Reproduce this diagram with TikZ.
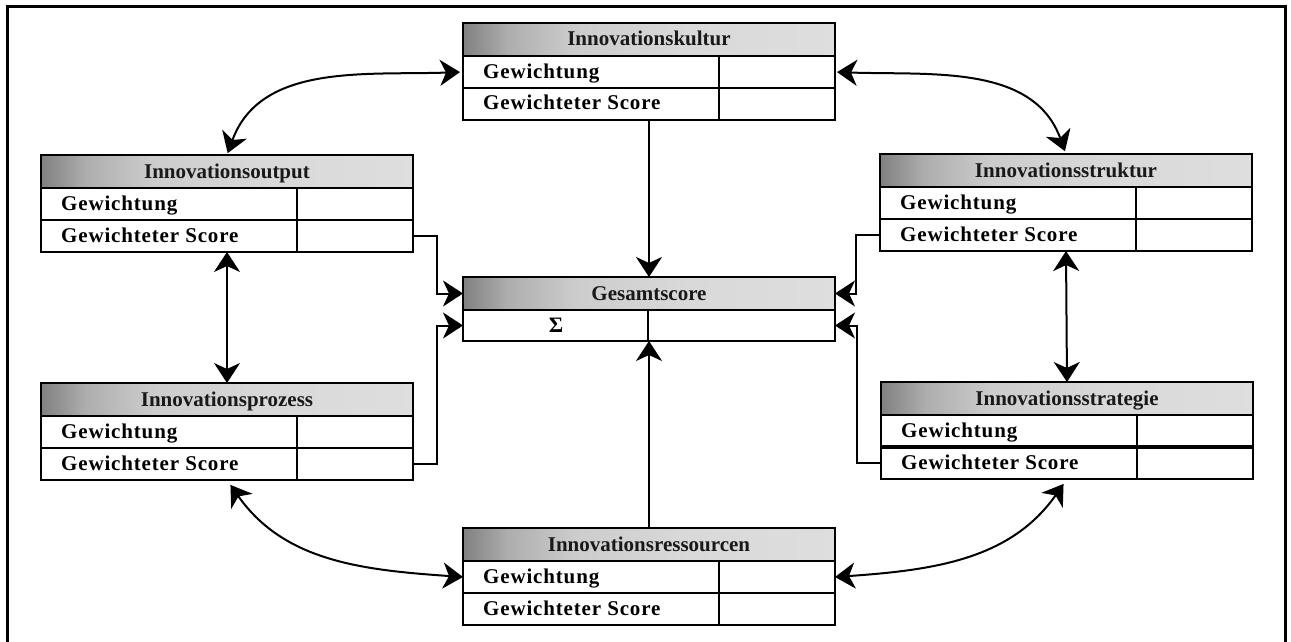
\documentclass[tikz,border=0pt]{standalone}
\usepackage{fontspec}
\setmainfont{Liberation Serif}
\newfontfamily\rowfont[LetterSpace=4]{Liberation Serif}
\usetikzlibrary{arrows.meta}

% grey header bar: dark at the left edge, fading to light grey
\pgfdeclarehorizontalshading{hdrshade}{100bp}{%
  color(0bp)=(black!50); color(25bp)=(black!50); color(31bp)=(black!32);
  color(40bp)=(black!20); color(55bp)=(black!15); color(75bp)=(black!13);
  color(100bp)=(black!13)}

% one weighting table: header, "Gewichtung" row and "Gewichteter Score" row
\newcommand\scorebox[4]{%
  \node[boxhdr] (#1-h) at (#2,-#3) {#4};
  \node[boxrow] (#1-a) at (#1-h.south west) {};
  \node[boxrow] (#1-b) at (#1-a.south west) {};
  \node[rowtext] (#1-ta) at ([shift={(20pt,-6pt)}]#1-a.west) {Gewichtung};
  \node[rowtext] (#1-tb) at ([shift={(20pt,-6pt)}]#1-b.west) {Gewichteter Score};
  \draw[boxline] ([xshift=256pt]#1-a.north west) -- ([xshift=256pt]#1-b.south west);
}

\begin{document}
\begin{tikzpicture}[x=1pt,y=1pt,
  >={Stealth[length=20pt,width=26pt,inset=6pt]},
  boxline/.style={line width=2pt},
  boxhdr/.style={draw, boxline, shade, shading=hdrshade,
    minimum width=372pt, minimum height=33pt, inner sep=0pt, outer sep=0pt,
    text height=15pt, text depth=2pt, anchor=north west,
    font=\bfseries\fontsize{21}{24}\selectfont, text=black!90},
  boxrow/.style={draw, boxline, fill=white, minimum width=372pt,
    minimum height=32pt, inner sep=0pt, outer sep=0pt, anchor=north west},
  rowtext/.style={anchor=base west, inner sep=0pt,
    font=\rowfont\bfseries\fontsize{21}{24}\selectfont},
  link/.style={line width=2pt}
]
\useasboundingbox (0,0) rectangle (1291,-642);

% outer frame (open at the bottom edge)
\draw[line width=3pt] (7,-650) -- (7,-7) -- (1285,-7) -- (1285,-650);

% the six weighting tables
\scorebox{kultur}{463}{23}{Innovationskultur}
\scorebox{output}{41}{155}{Innovationsoutput}
\scorebox{struktur}{880}{154}{Innovationsstruktur}
\scorebox{prozess}{41}{383}{Innovationsprozess}
\scorebox{strategie}{881}{382}{Innovationsstrategie}
\scorebox{ress}{463}{528}{Innovationsressourcen}
\draw[line width=3.5pt] (strategie-b.north west) -- (strategie-b.north east);

% overall score table
\node[boxhdr] (ges-h) at (463,-277) {Gesamtscore};
\node[boxrow, minimum height=31pt] (ges-b) at (ges-h.south west) {};
\draw[boxline] ([xshift=185pt]ges-b.north west) -- ([xshift=185pt]ges-b.south west);
\node[font=\bfseries\fontsize{22}{24}\selectfont, inner sep=0pt] (sigma)
  at ([xshift=-93pt]ges-b.center) {Σ};

% score flows into the overall score
\draw[link,->] (kultur-b.south) -- (ges-h.north);
\draw[link,->] (ress-h.north) -- (ges-b.south);
\draw[link,->] (output-b.east) -- ++(24,0) |- (ges-h.west);
\draw[link,->] (prozess-b.east) -- ++(24,0) |- (ges-b.west);
\draw[link,->] (struktur-b.west) -- ++(-24,0) |- (ges-h.east);
\draw[link,->] (strategie-b.west) -- ++(-24,0) |- (ges-b.east);

% mutual influences between neighbouring areas
\draw[link,<->] (output-b.south) -- (prozess-h.north);
\draw[link,<->] (struktur-b.south) -- (strategie-h.north);
\draw[link,<->,shorten >=2pt,shorten <=3pt] (kultur-a.west) to[out=182,in=70] (output-h.north);
\draw[link,<->,shorten <=2pt,shorten >=3pt] (kultur-a.east) to[out=-2,in=110] (struktur-h.north);
\draw[link,<->,shorten <=6pt] (prozess-b.south) to[out=-55,in=176] (ress-a.west);
\draw[link,<->,shorten <=6pt] (strategie-b.south) to[out=-125,in=4] (ress-a.east);
\end{tikzpicture}
\end{document}
